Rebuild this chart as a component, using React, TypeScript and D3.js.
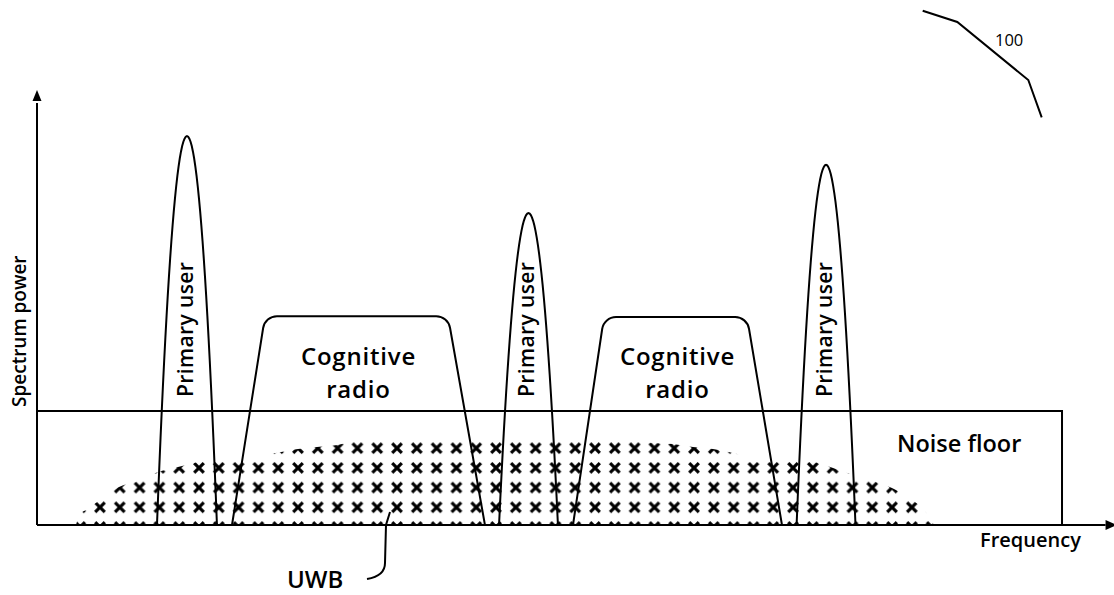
import * as d3 from "d3";

const W = 1114;
const H = 595;

// primary users: centre frequency, peak power, half bandwidth at the floor
const puCenter = [13.95, 45.72, 73.4];
const puPeak = [89.4, 71.7, 82.8];
const puHalfWidth = [2.79, 2.74, 2.74];
const puLabel = "Primary user";

// cognitive radio bands
const crBaseLeft = [18.14, 49.86];
const crTopLeft = [21.21, 52.74];
const crTopRight = [38.23, 66.05];
const crBaseRight = [41.67, 69.3];
const crPower = [48.0, 47.8];
const crLabel = ["Cognitive", "radio"];

// noise floor level and upper edge
const noiseFloor = 26.2;
const noiseFloorEnd = 95.35;

// UWB envelope
const uwbFreq = [
  3.63, 4.0, 4.56, 5.86, 7.63, 9.4, 11.26, 13.12, 14.98, 18.7, 21.67, 24.28,
  26.05, 27.91, 29.77, 42.6, 55.63, 57.3, 59.16, 61.02, 62.88, 64.74, 67.26,
  72.19, 74.05, 75.91, 77.77, 79.53, 81.4, 82.33, 83.07, 83.44,
];
const uwbPower = [
  0, 2.53, 3.45, 5.75, 8.74, 10.11, 12.18, 13.33, 14.48, 15.17, 16.32, 17.47,
  17.93, 18.39, 19.31, 19.77, 19.31, 18.85, 18.62, 17.93, 17.47, 16.55, 14.94,
  14.48, 13.1, 11.49, 10.11, 8.51, 5.75, 3.91, 1.61, 0,
];
// x-mark grid of the UWB fill (origin and step, in axis units)
const uwbMarkOrigin = [5.86, -0.46];
const uwbMarkStep = [1.842, 4.53];

const FONT = "'Open Sans', 'DejaVu Sans', sans-serif";

export default function App() {
  const x = d3.scaleLinear().domain([0, 100]).range([37, 1112]);
  const y = d3.scaleLinear().domain([0, 100]).range([525, 90]);

  const uwbPts: [number, number][] = uwbFreq.map((f, i) => [f, uwbPower[i]]);
  const uwbArea = d3
    .area<[number, number]>()
    .x((d) => x(d[0]))
    .y0(y(0))
    .y1((d) => y(d[1]))
    .curve(d3.curveMonotoneX)(uwbPts)!;

  const cw = x(uwbMarkStep[0]) - x(0);
  const ch = y(0) - y(uwbMarkStep[1]);
  const px0 = x(uwbMarkOrigin[0]);
  const py0 = y(uwbMarkOrigin[1]);
  const a = 4.8;

  const peakLine = d3
    .line<[number, number]>()
    .x((d) => x(d[0]))
    .y((d) => y(d[1]));
  const ts = d3.range(-1, 1.0001, 0.04);
  const puPaths = puCenter.map((c, i) =>
    peakLine(
      ts.map((t) => [c + t * puHalfWidth[i], puPeak[i] * (1 - t * t)] as [number, number])
    )!
  );

  const crPaths = crBaseLeft.map((bl, i) => {
    const p = d3.path();
    const top = y(crPower[i]);
    p.moveTo(x(bl), y(0));
    p.arcTo(x(crTopLeft[i]), top, x(crTopRight[i]), top, 14);
    p.arcTo(x(crTopRight[i]), top, x(crBaseRight[i]), y(0), 14);
    p.lineTo(x(crBaseRight[i]), y(0));
    return p.toString();
  });

  const stroke = { fill: "none", stroke: "#000", strokeWidth: 2 };

  return (
    <svg
      width={W}
      height={H}
      style={{ position: "absolute", left: 0, top: 0, background: "#fff" }}
      fontFamily={FONT}
      fontWeight={600}
    >
      <defs>
        <pattern
          id="uwbX"
          patternUnits="userSpaceOnUse"
          x={px0 - cw / 2}
          y={py0 - ch / 2}
          width={cw}
          height={ch}
        >
          <path
            d={`M${cw / 2 - a},${ch / 2 - a}L${cw / 2 + a},${ch / 2 + a}M${cw / 2 - a},${ch / 2 + a}L${cw / 2 + a},${ch / 2 - a}`}
            stroke="#000"
            strokeWidth={3.2}
          />
        </pattern>
      </defs>

      {/* UWB */}
      <path d={uwbArea} fill="url(#uwbX)" />

      {/* noise floor */}
      <path
        d={`M${x(0)},${y(noiseFloor)}H${x(noiseFloorEnd)}V${y(0)}`}
        {...stroke}
      />

      {/* axes */}
      <line x1={x(0)} y1={y(0)} x2={x(0)} y2={y(97)} {...stroke} />
      <path d={`M${x(0)},${y(100)}l-4.5,11h9z`} fill="#000" />
      <line x1={x(0)} y1={y(0)} x2={x(99.4)} y2={y(0)} {...stroke} />
      <path d={`M${x(99.4)},${y(0) - 5}l11,5l-11,5z`} fill="#000" />

      {/* cognitive radio */}
      {crPaths.map((d, i) => (
        <g key={`cr${i}`}>
          <path d={d} {...stroke} />
          {crLabel.map((t, j) => (
            <text
              key={j}
              x={x((crBaseLeft[i] + crBaseRight[i]) / 2)}
              y={365 + j * 33}
              textAnchor="middle"
              fontSize={24}
              letterSpacing={0.8}
            >
              {t}
            </text>
          ))}
        </g>
      ))}

      {/* primary users */}
      {puPaths.map((d, i) => (
        <g key={`pu${i}`}>
          <path d={d} {...stroke} />
          <text
            transform={`translate(${x(puCenter[i]) + 6},397) rotate(-90)`}
            fontSize={21}
            letterSpacing={0.4}
          >
            {puLabel}
          </text>
        </g>
      ))}

      {/* labels */}
      <text transform="translate(26,407) rotate(-90)" fontSize={19}>
        Spectrum power
      </text>
      <text x={980} y={547} fontSize={20}>
        Frequency
      </text>
      <text x={897} y={452} fontSize={23.5}>
        Noise floor
      </text>
      <text x={287} y={588} fontSize={24}>
        UWB
      </text>
      <path d="M390,512L386,525L385,563Q385,576 367,579" {...stroke} />

      <text x={995} y={46} fontSize={16.5} fontWeight={400}>
        100
      </text>
      <path d="M922.7,10.7L957.3,22L1028.3,80L1041.7,117.3" {...stroke} />
    </svg>
  );
}
